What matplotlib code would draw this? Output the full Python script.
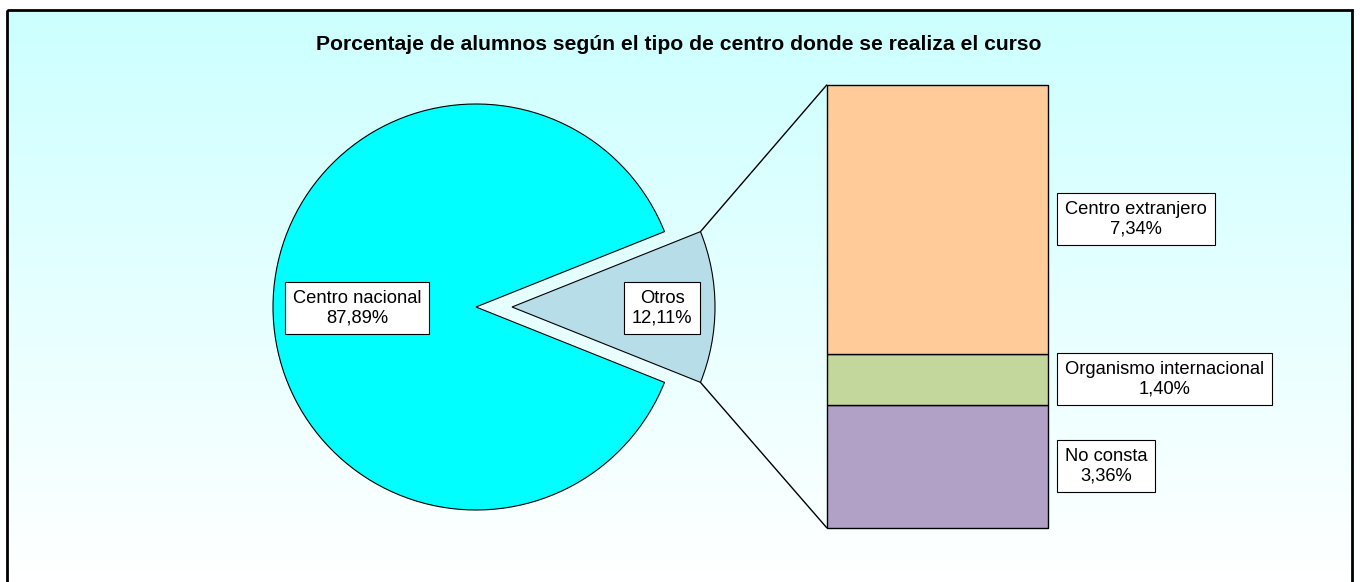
import numpy as np
import matplotlib
matplotlib.use("Agg")
import matplotlib.pyplot as plt
from matplotlib.patches import ConnectionPatch, Rectangle
from matplotlib.colors import LinearSegmentedColormap

plt.rcParams['font.family'] = ['Liberation Sans', 'DejaVu Sans']

titulo = "Porcentaje de alumnos según el tipo de centro donde se realiza el curso"

# tarta principal (Otros primero para centrarlo a la derecha)
pie_labels = ["Otros", "Centro nacional"]
pie_values = [12.11, 87.89]
pie_colors = ["#B7DDE8", "#00FFFF"]

# desglose de "Otros" (de abajo a arriba)
bar_labels = ["No consta", "Organismo internacional", "Centro extranjero"]
bar_values = [3.36, 1.40, 7.34]
bar_colors = ["#B2A1C7", "#C3D69B", "#FFCC99"]

W, H = 1360, 582
fig = plt.figure(figsize=(W / 100, H / 100), dpi=100)


def px_axes(x0, y0, x1, y1):
    # caja en pixeles, y medida desde arriba
    return fig.add_axes([x0 / W, 1 - y1 / H, (x1 - x0) / W, (y1 - y0) / H])


def fmt(v):
    return f"{v:.2f}".replace(".", ",") + "%"


FS = 13.2
box = dict(boxstyle="square,pad=0.42", facecolor="white", edgecolor="black", linewidth=0.8)

# fondo con degradado y marco
bg = px_axes(0, 0, W, H)
grad = np.linspace(0, 1, 256).reshape(-1, 1)
cmap = LinearSegmentedColormap.from_list("fondo", ["#CCFFFF", "#FFFFFF"])
bg.imshow(grad, cmap=cmap, aspect="auto", extent=(7, 1352, H, 10), origin="upper")
bg.add_patch(Rectangle((7, 10), 1345, 580, fill=False, edgecolor="black", linewidth=2))
bg.set_xlim(0, W)
bg.set_ylim(H, 0)
bg.axis("off")

fig.text(679 / W, 1 - 45 / H, titulo, ha="center", va="center",
         fontsize=15.2, fontweight="bold")

# tarta
R = 203.0
s = 270.0
ax_pie = px_axes(476 - s, 307 - s, 476 + s, 307 + s)
expl = 36 / R
half = pie_values[0] * 3.6 / 2
ax_pie.pie(pie_values, colors=pie_colors, startangle=-half, explode=[expl, 0],
           radius=1, wedgeprops=dict(edgecolor="black", linewidth=0.8))
ax_pie.set_xlim(-s / R, s / R)
ax_pie.set_ylim(-s / R, s / R)
ax_pie.axis("off")

ax_pie.text(expl + 0.74, -0.005, f"{pie_labels[0]}\n{fmt(pie_values[0])}", ha="center", va="center",
            multialignment="center", fontsize=FS, bbox=box)
ax_pie.text(-0.585, -0.005, f"{pie_labels[1]}\n{fmt(pie_values[1])}", ha="center", va="center",
            multialignment="center", fontsize=FS, bbox=box)

# barra apilada
bx0, by0, bx1, by1 = 826.7, 85, 1048.3, 527.7
ax_bar = px_axes(bx0, by0, bx1, by1)
total = sum(bar_values)
bottom = 0
for lab, val, col in zip(bar_labels, bar_values, bar_colors):
    bars = ax_bar.bar(0.5, val, width=1, bottom=bottom, color=col, edgecolor="black", linewidth=1)
    for b in bars:
        b.set_clip_on(False)
    ax_bar.text(1 + (1065 - bx1) / (bx1 - bx0), bottom + val / 2, f"{lab}\n{fmt(val)}",
                ha="left", va="center", multialignment="center", fontsize=FS,
                bbox=box, clip_on=False)
    bottom += val
ax_bar.set_xlim(0, 1)
ax_bar.set_ylim(0, total)
ax_bar.axis("off")

# lineas de union
t = np.radians(half)
for yb, sign in [(total, 1), (0, -1)]:
    con = ConnectionPatch(xyA=(0, yb), coordsA=ax_bar.transData,
                          xyB=(expl + np.cos(t), sign * np.sin(t)), coordsB=ax_pie.transData,
                          color="black", linewidth=1)
    fig.add_artist(con)

fig.savefig("out.png", dpi=100)
